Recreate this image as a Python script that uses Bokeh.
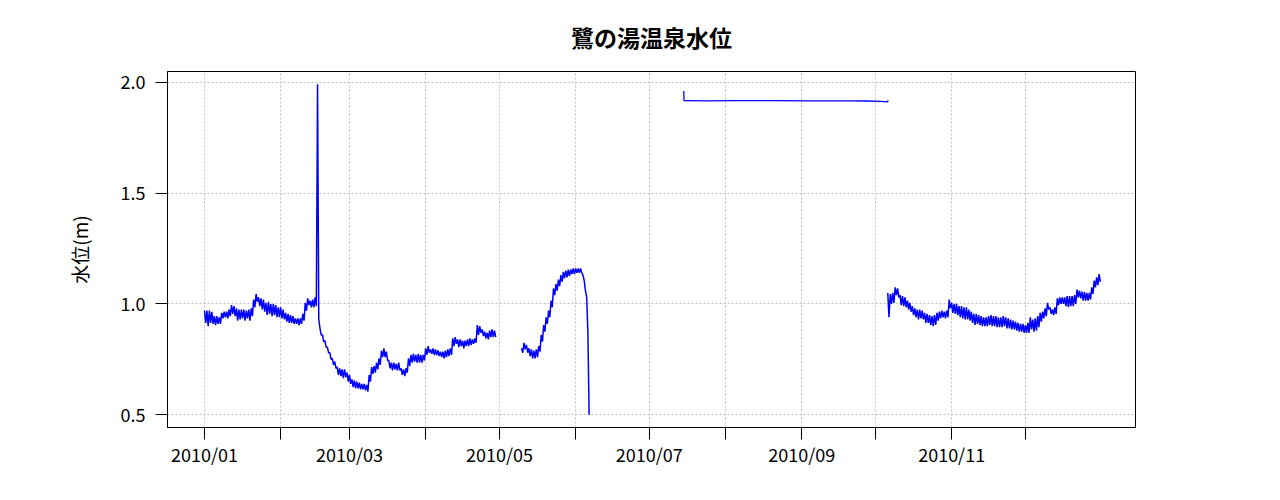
import pandas as pd
from bokeh.plotting import figure
from bokeh.models import Range1d, FixedTicker, DatetimeTickFormatter, NumeralTickFormatter
from bokeh.embed import file_html
from bokeh.resources import INLINE

title_text = "鷺の湯温泉水位"
y_label = "水位(m)"
tick_dates = ["2010-01-01", "2010-02-01", "2010-03-01", "2010-04-01", "2010-05-01", "2010-06-01",
              "2010-07-01", "2010-08-01", "2010-09-01", "2010-10-01", "2010-11-01", "2010-12-01"]
tick_labels = ["2010/01", "", "2010/03", "", "2010/05", "", "2010/07", "", "2010/09", "", "2010/11", ""]
y_ticks = [0.5, 1.0, 1.5, 2.0]

# segment 1: daily high/low, 2010-01-01 .. 2010-04-29
seg1_start = "2010-01-01"
seg1_step_h = 24
seg1_hi = [
    0.97, 0.97, 0.97, 0.965, 0.945, 0.945, 0.94, 0.96, 0.965, 0.965,
    0.975, 0.995, 0.99, 0.98, 0.975, 0.975, 0.975, 0.97, 0.975, 0.98,
    1.02, 1.045, 1.03, 1.025, 1.02, 1.005, 1.01, 1.0, 1.0, 0.995,
    0.985, 0.985, 0.975, 0.96, 0.955, 0.95, 0.945, 0.935, 0.935, 0.935,
    0.955, 1.005, 1.025, 1.015, 1.02, 1.03, 1.99, 0.89, 0.86, 0.835,
    0.805, 0.78, 0.755, 0.74, 0.715, 0.71, 0.705, 0.705, 0.69, 0.68,
    0.66, 0.655, 0.65, 0.645, 0.64, 0.64, 0.635, 0.68, 0.715, 0.72,
    0.735, 0.755, 0.79, 0.80, 0.785, 0.745, 0.735, 0.735, 0.73, 0.735,
    0.71, 0.705, 0.71, 0.755, 0.77, 0.775, 0.77, 0.775, 0.77, 0.77,
    0.80, 0.81, 0.795, 0.80, 0.795, 0.79, 0.785, 0.785, 0.79, 0.795,
    0.80, 0.845, 0.85, 0.84, 0.84, 0.835, 0.835, 0.84, 0.845, 0.84,
    0.845, 0.905, 0.90, 0.885, 0.875, 0.87, 0.88, 0.885, 0.88,
]
seg1_lo = [
    0.915, 0.90, 0.915, 0.91, 0.905, 0.91, 0.91, 0.935, 0.94, 0.935,
    0.945, 0.955, 0.945, 0.925, 0.93, 0.935, 0.925, 0.935, 0.925, 0.945,
    0.985, 1.01, 0.99, 0.975, 0.965, 0.95, 0.955, 0.945, 0.95, 0.94,
    0.94, 0.935, 0.93, 0.92, 0.915, 0.915, 0.91, 0.91, 0.905, 0.91,
    0.925, 0.97, 0.995, 0.985, 0.985, 0.99, 0.93, 0.86, 0.83, 0.805,
    0.78, 0.75, 0.725, 0.71, 0.68, 0.675, 0.665, 0.67, 0.65, 0.64,
    0.625, 0.62, 0.62, 0.615, 0.615, 0.61, 0.605, 0.65, 0.685, 0.69,
    0.705, 0.725, 0.76, 0.76, 0.745, 0.71, 0.70, 0.705, 0.70, 0.70,
    0.68, 0.675, 0.69, 0.72, 0.735, 0.74, 0.735, 0.735, 0.735, 0.745,
    0.77, 0.78, 0.775, 0.77, 0.77, 0.765, 0.76, 0.755, 0.76, 0.765,
    0.77, 0.81, 0.82, 0.805, 0.81, 0.80, 0.81, 0.81, 0.815, 0.82,
    0.825, 0.86, 0.87, 0.855, 0.845, 0.84, 0.85, 0.85, 0.85,
]

# segment 2: daily high/low, 2010-05-10 .. 2010-06-06
seg2_start = "2010-05-10"
seg2_step_h = 24
seg2_hi = [0.80, 0.825, 0.815, 0.80, 0.795, 0.79, 0.795, 0.81, 0.86, 0.905,
           0.94, 0.97, 1.015, 1.07, 1.09, 1.11, 1.13, 1.145, 1.15, 1.155,
           1.155, 1.16, 1.16, 1.16, 1.16, 1.13, 1.06, 0.87]
seg2_lo = [0.78, 0.795, 0.78, 0.765, 0.755, 0.755, 0.76, 0.785, 0.83, 0.875,
           0.91, 0.94, 0.985, 1.04, 1.06, 1.08, 1.10, 1.115, 1.12, 1.125,
           1.135, 1.135, 1.14, 1.14, 1.14, 1.105, 1.03, 0.50]

# segment 3: nearly flat readings, 2010-07-15 .. 2010-10-06
seg3_dates = ["2010-07-15 00:00", "2010-07-15 02:00", "2010-07-16", "2010-07-25", "2010-08-05",
              "2010-08-20", "2010-09-05", "2010-09-20", "2010-09-28", "2010-10-03",
              "2010-10-06 00:00", "2010-10-06 02:00"]
seg3_vals = [1.96, 1.917, 1.917, 1.916, 1.917, 1.917, 1.916, 1.916, 1.915, 1.913, 1.911, 1.918]

# segment 4: daily high/low, 2010-10-06 .. 2010-12-31
seg4_start = "2010-10-06"
seg4_step_h = 24
seg4_hi = [
    1.05, 1.045, 1.05, 1.075, 1.07, 1.04, 1.035, 1.03, 1.015, 1.005,
    0.99, 0.98, 0.975, 0.975, 0.97, 0.96, 0.955, 0.95, 0.945, 0.95,
    0.96, 0.965, 0.97, 0.965, 0.97, 1.02, 1.005, 1.0, 1.0, 0.99,
    0.99, 0.985, 0.985, 0.975, 0.965, 0.955, 0.955, 0.95, 0.945, 0.94,
    0.94, 0.945, 0.95, 0.945, 0.945, 0.94, 0.94, 0.945, 0.94, 0.935,
    0.93, 0.925, 0.92, 0.915, 0.91, 0.91, 0.905, 0.915, 0.94, 0.93,
    0.935, 0.945, 0.96, 0.965, 0.98, 1.005, 0.985, 0.975, 0.985, 1.025,
    1.03, 1.03, 1.03, 1.035, 1.035, 1.035, 1.04, 1.065, 1.06, 1.055,
    1.055, 1.05, 1.05, 1.075, 1.105, 1.12, 1.135,
]
seg4_lo = [
    0.94, 1.0, 1.005, 1.04, 1.03, 0.995, 0.99, 0.985, 0.975, 0.965,
    0.95, 0.94, 0.93, 0.935, 0.93, 0.915, 0.915, 0.905, 0.90, 0.905,
    0.925, 0.935, 0.94, 0.935, 0.94, 0.98, 0.96, 0.955, 0.95, 0.94,
    0.935, 0.93, 0.93, 0.925, 0.915, 0.905, 0.91, 0.905, 0.90, 0.90,
    0.90, 0.905, 0.90, 0.90, 0.895, 0.895, 0.895, 0.90, 0.89, 0.89,
    0.885, 0.885, 0.88, 0.875, 0.875, 0.87, 0.87, 0.87, 0.885, 0.875,
    0.88, 0.895, 0.92, 0.935, 0.945, 0.975, 0.955, 0.95, 0.955, 0.995,
    1.0, 1.0, 0.99, 0.985, 0.99, 0.99, 1.0, 1.03, 1.025, 1.015,
    1.015, 1.015, 1.02, 1.045, 1.075, 1.085, 1.10,
]

hilo_segments = [
    (seg1_start, seg1_step_h, seg1_hi, seg1_lo),
    (seg2_start, seg2_step_h, seg2_hi, seg2_lo),
    (seg4_start, seg4_step_h, seg4_hi, seg4_lo),
]


def build(start, step_h, hi, lo):
    t0 = pd.Timestamp(start)
    xs, ys = [], []
    for i, (h, l) in enumerate(zip(hi, lo)):
        xs.append(t0 + pd.Timedelta(hours=step_h * i))
        ys.append(h)
        xs.append(t0 + pd.Timedelta(hours=step_h * i + step_h / 2))
        ys.append(l)
    return xs, ys


FONT = "Noto Sans CJK JP"
LINE = "#0000ff"
base = pd.Timestamp("2010-01-01")
x_start = (base - pd.Timedelta(days=15.05)).to_pydatetime()
x_end = (base + pd.Timedelta(days=378.8)).to_pydatetime()

p = figure(width=1264, height=484, x_axis_type="datetime",
           x_range=Range1d(x_start, x_end), y_range=Range1d(0.443, 2.048),
           output_backend="svg", toolbar_location=None,
           min_border_left=167, min_border_right=129, min_border_top=71, min_border_bottom=57,
           background_fill_color="white", border_fill_color="white")

p.title.text = title_text
p.title.align = "center"
p.title.text_font = FONT
p.title.text_font_size = "23px"
p.title.text_font_style = "bold"
p.title.text_color = "black"
p.title.standoff = 35

for start, step_h, hi, lo in hilo_segments:
    xs, ys = build(start, step_h, hi, lo)
    p.line(xs, ys, line_color=LINE, line_width=1.5)

p.line([pd.Timestamp(d) for d in seg3_dates], seg3_vals, line_color=LINE, line_width=1.3)

tick_ms = [pd.Timestamp(d).value / 1e6 for d in tick_dates]
p.xaxis.ticker = FixedTicker(ticks=tick_ms)
p.xaxis.formatter = DatetimeTickFormatter(months="%Y/%m", days="%Y/%m")
p.xaxis.major_label_overrides = {t: lab for t, lab in zip(tick_ms, tick_labels)}
p.yaxis.ticker = FixedTicker(ticks=y_ticks)
p.yaxis.formatter = NumeralTickFormatter(format="0.0")
p.yaxis.axis_label = y_label

for ax in (p.xaxis[0], p.yaxis[0]):
    ax.minor_tick_line_color = None
    ax.major_tick_in = 0
    ax.major_tick_out = 12
    ax.major_tick_line_color = "black"
    ax.axis_line_color = "black"
    ax.major_label_text_font = FONT
    ax.major_label_text_font_size = "18px"
    ax.major_label_text_color = "black"
    ax.axis_label_text_font = FONT
    ax.axis_label_text_font_size = "19px"
    ax.axis_label_text_font_style = "normal"
    ax.axis_label_text_color = "black"

p.xaxis.major_label_standoff = 1
p.yaxis.major_label_standoff = 10
p.yaxis.axis_label_standoff = 25

for g in (p.xgrid[0], p.ygrid[0]):
    g.grid_line_color = "#bebebe"
    g.grid_line_dash = "2 2"
    g.grid_line_width = 1

p.outline_line_color = "black"
p.outline_line_alpha = 1.0
p.outline_line_width = 1

open("out.html", "w").write(file_html(p, INLINE))
